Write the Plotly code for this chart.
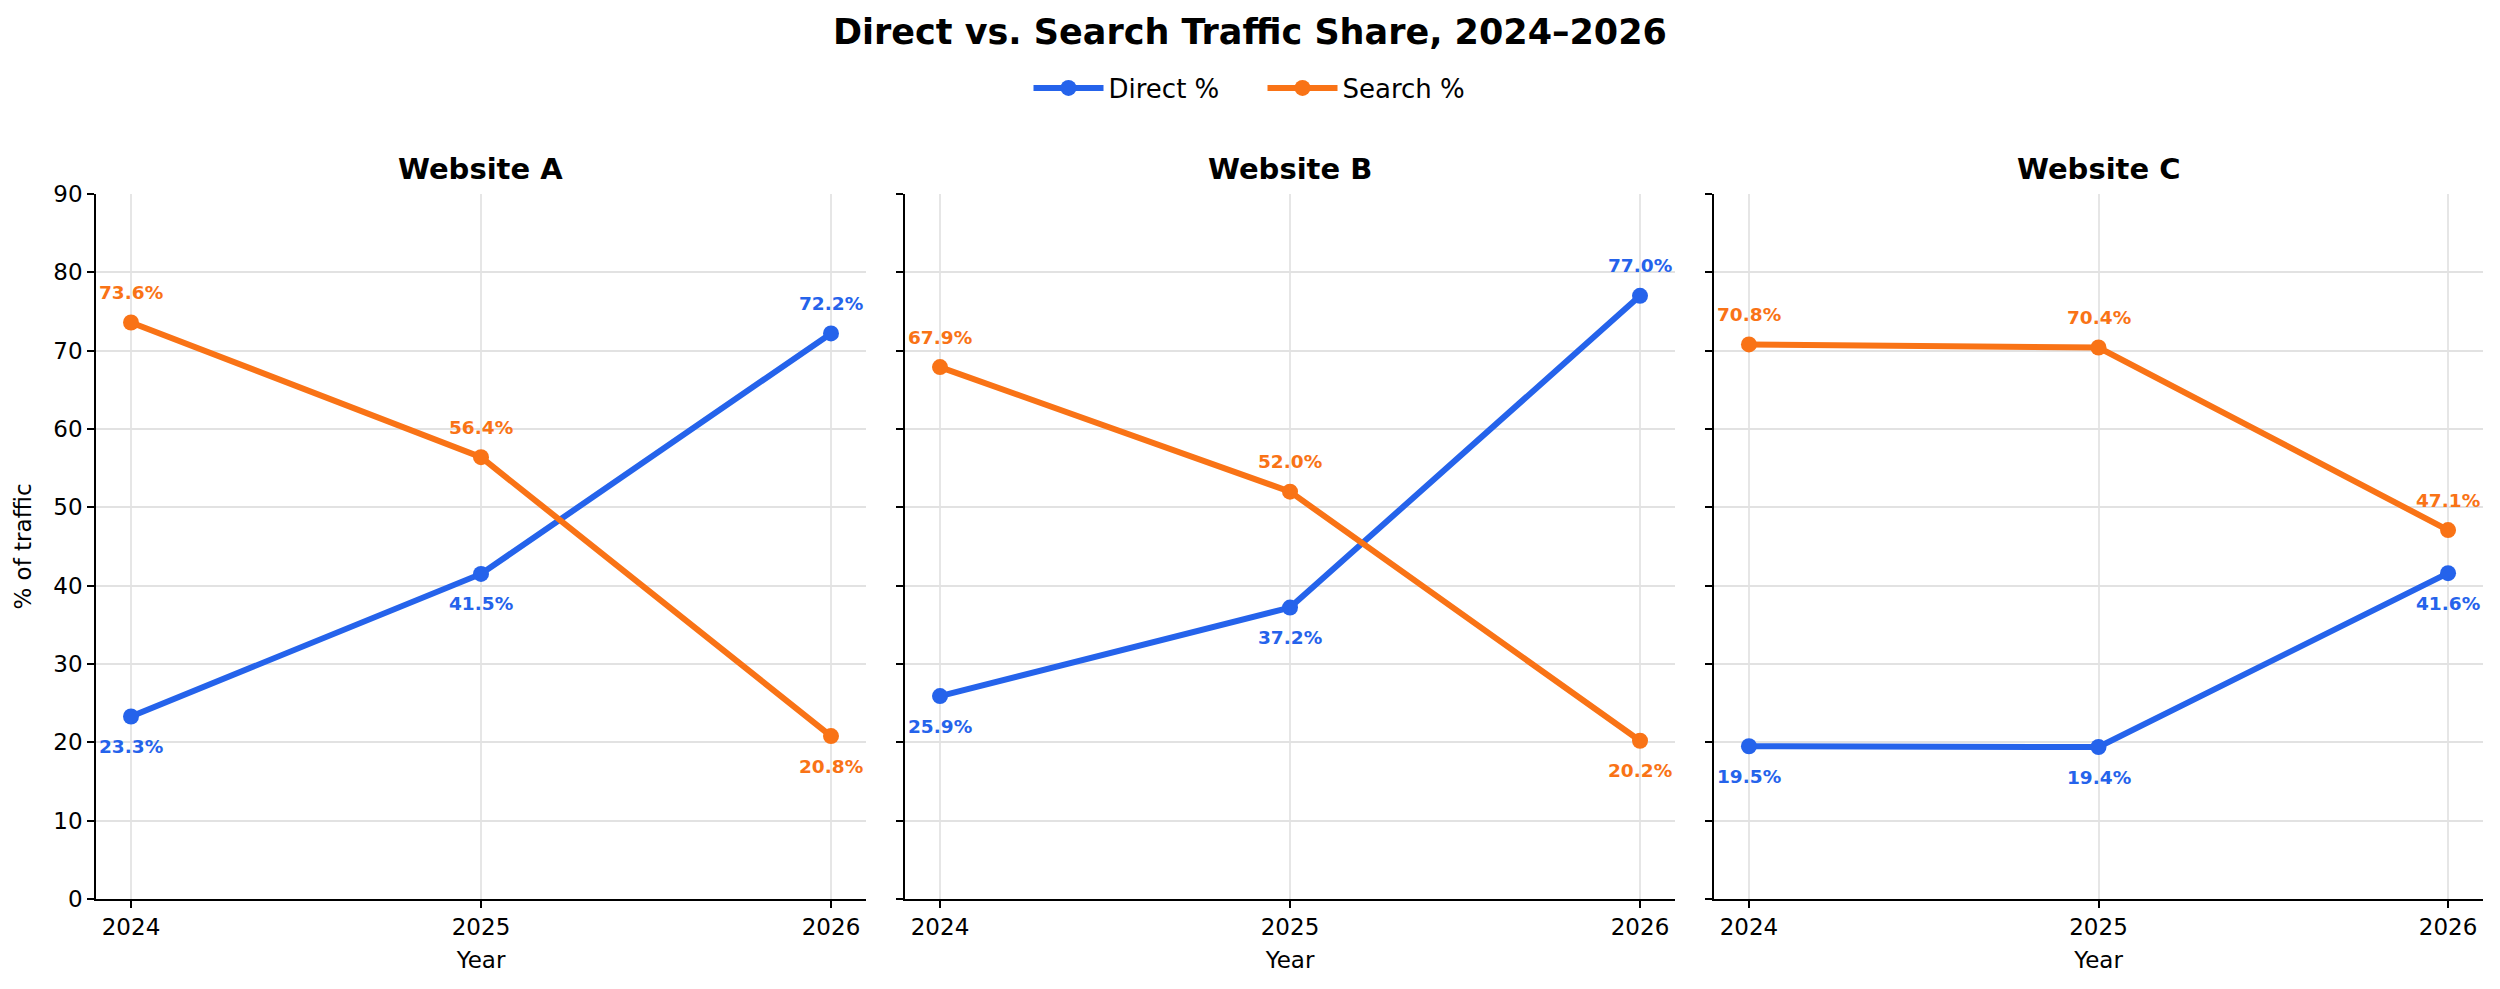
import plotly.graph_objects as go

years = [2024, 2025, 2026]
sites = ["Website A", "Website B", "Website C"]
direct = {
    "Website A": [23.3, 41.5, 72.2],
    "Website B": [25.9, 37.2, 77.0],
    "Website C": [19.5, 19.4, 41.6],
}
search = {
    "Website A": [73.6, 56.4, 20.8],
    "Website B": [67.9, 52.0, 20.2],
    "Website C": [70.8, 70.4, 47.1],
}
y_ticks = [0, 10, 20, 30, 40, 50, 60, 70, 80, 90]

BLUE = "#2563EB"
ORANGE = "#F97316"
FONT = "DejaVu Sans"
W, H = 2500, 989

# panel pixel bounds (left, right)
panels_px = [(96, 866), (905, 1675), (1714, 2483)]
top_px, bottom_px = 194, 899
ydom = [1 - bottom_px / H, 1 - top_px / H]

fig = go.Figure()
annotations = []

for i, site in enumerate(sites):
    sfx = "" if i == 0 else str(i + 1)
    xa, ya = "x" + sfx, "y" + sfx
    for name, data, color in [("Direct %", direct[site], BLUE), ("Search %", search[site], ORANGE)]:
        fig.add_trace(go.Scatter(
            x=years, y=data, mode="lines+markers", name=name,
            line=dict(color=color, width=6),
            marker=dict(color=color, size=16),
            xaxis=xa, yaxis=ya, showlegend=(i == 0), legendgroup=name,
            hoverinfo="skip",
        ))
    for j, yr in enumerate(years):
        d, s = direct[site][j], search[site][j]
        for val, other, color in [(d, s, BLUE), (s, d, ORANGE)]:
            above = val >= other
            annotations.append(dict(
                x=yr, y=val, xref=xa, yref=ya, text=f"<b>{val:.1f}%</b>",
                showarrow=False, yshift=30 if above else -30,
                font=dict(family=FONT, size=18.5, color=color),
                xanchor="center", yanchor="middle",
            ))
    l, r = panels_px[i]
    xdom = [l / W, r / W]
    fig.layout["xaxis" + sfx] = dict(
        domain=xdom, anchor=ya, range=[2023.9, 2026.1], automargin=False,
        tickvals=years, ticktext=[str(y) for y in years],
        showline=True, linecolor="black", linewidth=1.6,
        ticks="outside", ticklen=7, tickwidth=1.6, tickcolor="black",
        showgrid=True, gridcolor="#e6e6e6", gridwidth=1.5, zeroline=False,
        tickfont=dict(family=FONT, size=23, color="black"),
        title=dict(text="Year", font=dict(family=FONT, size=23, color="black"), standoff=12),
    )
    fig.layout["yaxis" + sfx] = dict(
        domain=ydom, anchor=xa, range=[0, 90], automargin=False,
        tickvals=y_ticks, showticklabels=(i == 0),
        showline=True, linecolor="black", linewidth=1.6,
        ticks="outside", ticklen=7, tickwidth=1.6, tickcolor="black",
        showgrid=True, gridcolor="#e2e2e2", gridwidth=1.5, zeroline=False,
        tickfont=dict(family=FONT, size=23, color="black"),
        title=dict(text="% of traffic" if i == 0 else "",
                   font=dict(family=FONT, size=23, color="black"), standoff=15),
    )
    annotations.append(dict(
        x=(xdom[0] + xdom[1]) / 2, y=1 - 169 / H, xref="paper", yref="paper",
        text=f"<b>{site}</b>", showarrow=False, xanchor="center", yanchor="middle",
        font=dict(family=FONT, size=29, color="black"),
    ))

annotations.append(dict(
    x=0.5, y=1 - 32 / H, xref="paper", yref="paper",
    text="<b>Direct vs. Search Traffic Share, 2024–2026</b>", showarrow=False,
    xanchor="center", yanchor="middle",
    font=dict(family=FONT, size=35, color="black"),
))

fig.update_layout(
    width=W, height=H,
    margin=dict(l=0, r=0, t=0, b=0, autoexpand=False),
    paper_bgcolor="white", plot_bgcolor="white",
    annotations=annotations,
    font=dict(family=FONT, color="black"),
    legend=dict(
        orientation="h", x=0.505, y=1 - 88 / H, xanchor="center", yanchor="middle",
        font=dict(family=FONT, size=26, color="black"),
        itemwidth=70, entrywidth=149, entrywidthmode="pixels",
        bgcolor="rgba(0,0,0,0)",
    ),
)

fig.write_html("out.html")
